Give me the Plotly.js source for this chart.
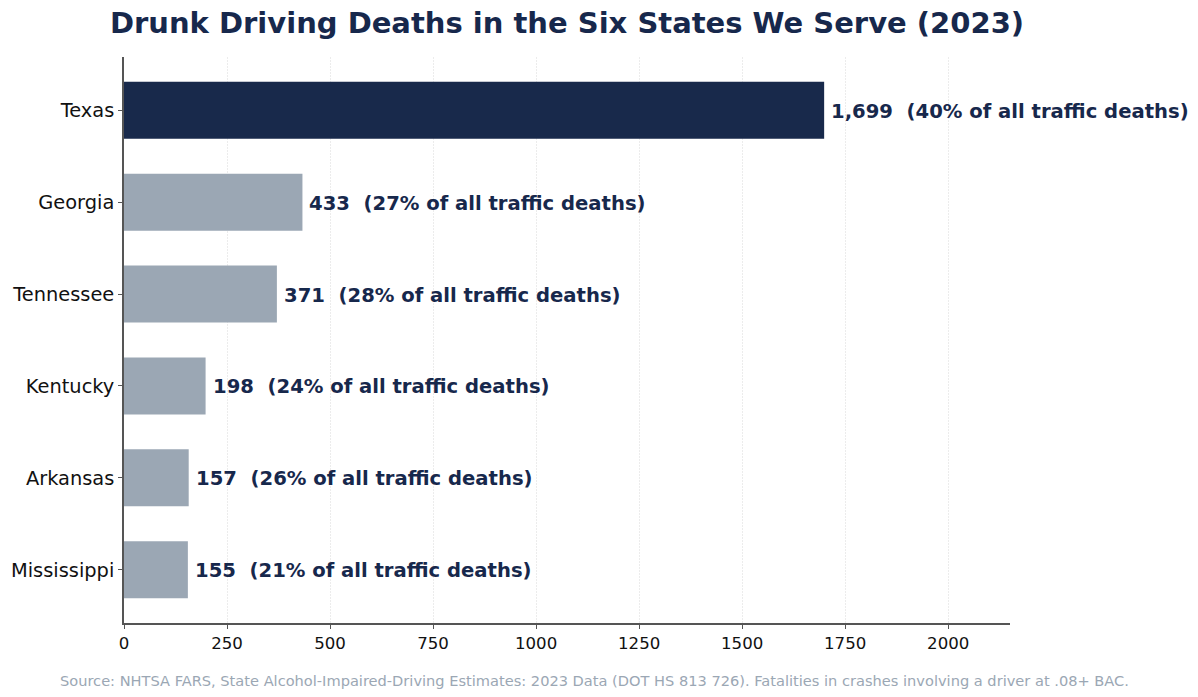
<!DOCTYPE html>
<html>
<head>
<meta charset="utf-8">
<script src="https://cdn.plot.ly/plotly-3.0.1.min.js"></script>
<style>html,body{margin:0;padding:0;background:#fff;}#chart{width:1198px;height:697px;}</style>
</head>
<body>
<div id="chart"></div>
<script>
const states = ["Texas", "Georgia", "Tennessee", "Kentucky", "Arkansas", "Mississippi"];
const deaths = [1699, 433, 371, 198, 157, 155];
const shares = [40, 27, 28, 24, 26, 21];
const xTicks = [0, 250, 500, 750, 1000, 1250, 1500, 1750, 2000];

const navy = "#18294b";
const grey = "#9ba7b4";
const colors = states.map((s, i) => i === 0 ? navy : grey);

const trace = {
  type: "bar",
  orientation: "h",
  x: deaths,
  y: states,
  width: 0.62,
  marker: {color: colors, line: {width: 0}},
  hoverinfo: "x+y"
};

const labelAnns = states.map((s, i) => ({
  x: deaths[i], y: s, xref: "x", yref: "y",
  text: deaths[i].toLocaleString("en-US") + "  (" + shares[i] + "% of all traffic deaths)",
  showarrow: false, xanchor: "left", yanchor: "middle", xshift: 5, yshift: -1,
  font: {family: "DejaVu Sans", size: 19.6, color: "#17284c", weight: "bold"}
}));

labelAnns.push({
  xref: "paper", yref: "paper", x: 0.5305, y: -0.083, yanchor: "top", xanchor: "center",
  showarrow: false,
  text: "Source: NHTSA FARS, State Alcohol-Impaired-Driving Estimates: 2023 Data (DOT HS 813 726). Fatalities in crashes involving a driver at .08+ BAC.",
  font: {family: "DejaVu Sans", size: 14.6, color: "#9ba7b4"}
});

const layout = {
  width: 1198, height: 697,
  margin: {l: 124, r: 188, t: 57, b: 74, pad: 0},
  paper_bgcolor: "#fff", plot_bgcolor: "#fff",
  showlegend: false,
  title: {
    text: "<b>Drunk Driving Deaths in the Six States We Serve (2023)</b>",
    x: 0.5, xref: "paper", xanchor: "center", y: 0.967, yanchor: "middle",
    font: {family: "DejaVu Sans", size: 29, color: "#17284c"}
  },
  xaxis: {
    range: [0, 2150], tickvals: xTicks, ticktext: xTicks.map(String),
    showgrid: true, gridcolor: "#ececec", griddash: "2px,1px", gridwidth: 1,
    showline: true, linecolor: "#555", linewidth: 1.8,
    ticks: "outside", ticklen: 4, tickcolor: "#555", tickwidth: 1,
    tickfont: {family: "DejaVu Sans", size: 16.6, color: "#111"},
    zeroline: false, fixedrange: true
  },
  yaxis: {
    categoryorder: "array", categoryarray: states,
    range: [5.58, -0.58],
    showgrid: false, showline: true, linecolor: "#555", linewidth: 1.8,
    ticks: "outside", ticklen: 4, tickcolor: "#555", tickwidth: 1,
    tickfont: {family: "DejaVu Sans", size: 19.4, color: "#111"},
    ticklabelstandoff: 0,
    zeroline: false, fixedrange: true
  },
  annotations: labelAnns
};

Plotly.newPlot("chart", [trace], layout, {displayModeBar: false, staticPlot: true});
</script>
</body>
</html>
